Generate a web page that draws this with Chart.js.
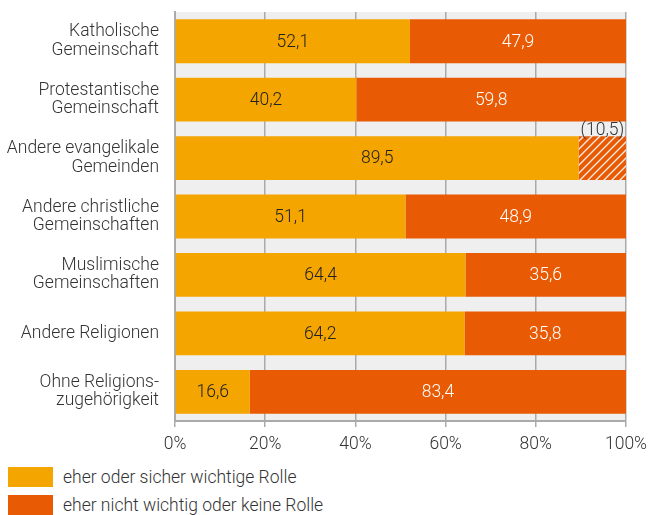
<!DOCTYPE html>
<html>
<head>
<meta charset="utf-8">
<script src="https://cdn.jsdelivr.net/npm/chart.js@4"></script>
<style>
  body { margin: 0; background: #fff; font-family: Roboto, sans-serif; font-weight: 300; }
  #wrap { position: relative; width: 648px; height: 466px; }
  .legende { margin-left: 8px; margin-top: -3px; }
  .eintrag { display: flex; align-items: center; height: 28px; font-size: 17.5px; color: #333; }
  .kasten { width: 45px; height: 20px; margin-right: 10px; flex: none; }
</style>
</head>
<body>
<div id="wrap"><canvas id="grafik"></canvas></div>
<div class="legende" id="legende"></div>
<script>
// Daten
const kategorien = [
  ['Katholische', 'Gemeinschaft'],
  ['Protestantische', 'Gemeinschaft'],
  ['Andere evangelikale', 'Gemeinden'],
  ['Andere christliche', 'Gemeinschaften'],
  ['Muslimische', 'Gemeinschaften'],
  'Andere Religionen',
  ['Ohne Religions-', 'zugehörigkeit']
];
const wichtig = [52.1, 40.2, 89.5, 51.1, 64.4, 64.2, 16.6];
const nichtWichtig = [47.9, 59.8, 10.5, 48.9, 35.6, 35.8, 83.4];
const unsicher = [false, false, true, false, false, false, false]; // schraffiert, Wert in Klammern
const serienNamen = ['eher oder sicher wichtige Rolle', 'eher nicht wichtig oder keine Rolle'];
const xTicks = [0, 20, 40, 60, 80, 100];

const farbeGelb = '#f5a500';
const farbeRot = '#e85a04';

// Schraffur-Muster
const schraffur = (() => {
  const c = document.createElement('canvas');
  c.width = 8; c.height = 8;
  const ctx = c.getContext('2d');
  ctx.fillStyle = farbeRot;
  ctx.fillRect(0, 0, 8, 8);
  ctx.strokeStyle = 'rgba(255,255,255,0.9)';
  ctx.lineWidth = 1.3;
  ctx.beginPath();
  ctx.moveTo(-2, 10); ctx.lineTo(10, -2);
  ctx.moveTo(-2, 2); ctx.lineTo(2, -2);
  ctx.moveTo(6, 10); ctx.lineTo(10, 6);
  ctx.stroke();
  return c.getContext('2d').createPattern(c, 'repeat');
})();

const fmt = v => v.toFixed(1).replace('.', ',');

// Hintergrund der Zeichenfläche
const hintergrundPlugin = {
  id: 'hintergrund',
  beforeDraw(chart) {
    const { ctx, chartArea: a } = chart;
    ctx.save();
    ctx.fillStyle = '#efefef';
    ctx.fillRect(a.left, a.top, a.right - a.left, a.bottom - a.top);
    ctx.restore();
  }
};

// Werte in die Balken schreiben
const wertePlugin = {
  id: 'werte',
  afterDatasetsDraw(chart) {
    const { ctx } = chart;
    ctx.save();
    ctx.font = '300 17.5px Roboto';
    ctx.textAlign = 'center';
    ctx.textBaseline = 'middle';
    chart.data.datasets.forEach((ds, di) => {
      chart.getDatasetMeta(di).data.forEach((bar, i) => {
        const mitte = (bar.x + bar.base) / 2;
        if (di === 1 && unsicher[i]) {
          ctx.fillStyle = '#333';
          ctx.fillText('(' + fmt(ds.data[i]) + ')', mitte, bar.y - bar.height / 2 - 6);
        } else {
          ctx.fillStyle = di === 0 ? '#222' : '#fff';
          ctx.fillText(fmt(ds.data[i]), mitte, bar.y + 1);
        }
      });
    });
    ctx.restore();
  }
};

new Chart(document.getElementById('grafik'), {
  type: 'bar',
  data: {
    labels: kategorien,
    datasets: [
      { label: serienNamen[0], data: wichtig, backgroundColor: farbeGelb },
      { label: serienNamen[1], data: nichtWichtig, backgroundColor: unsicher.map(u => u ? schraffur : farbeRot) }
    ]
  },
  options: {
    indexAxis: 'y',
    responsive: true,
    maintainAspectRatio: false,
    animation: false,
    datasets: { bar: { categoryPercentage: 1, barPercentage: 0.75 } },
    layout: { padding: { top: 12, right: 22, bottom: 4, left: 0 } },
    plugins: {
      legend: { display: false },
      tooltip: { enabled: false }
    },
    scales: {
      x: {
        stacked: true,
        min: 0, max: 100,
        afterBuildTicks(s) { s.ticks = xTicks.map(v => ({ value: v })); },
        afterFit(s) { s.paddingLeft = 0; s.paddingRight = 0; },
        ticks: { callback: v => v + '%', color: '#333', font: { family: 'Roboto', size: 17.5, weight: 300 }, padding: 7, maxRotation: 0 },
        grid: { color: '#aaa', lineWidth: 1.5, tickLength: 6, drawOnChartArea: true },
        border: { color: '#aaa', width: 2 }
      },
      y: {
        stacked: true,
        afterFit(s) { s.width = 175; s.paddingTop = 0; s.paddingBottom = 0; },
        ticks: { color: '#333', font: { family: 'Roboto', size: 17.5, weight: 300, lineHeight: 1.05 }, padding: 8 },
        grid: { display: false },
        border: { color: '#aaa', width: 2 }
      }
    }
  },
  plugins: [hintergrundPlugin, wertePlugin]
});

// Legende
const legende = document.getElementById('legende');
[farbeGelb, farbeRot].forEach((f, i) => {
  const d = document.createElement('div');
  d.className = 'eintrag';
  d.innerHTML = '<span class="kasten" style="background:' + f + '"></span>' + serienNamen[i];
  legende.appendChild(d);
});
</script>
</body>
</html>
